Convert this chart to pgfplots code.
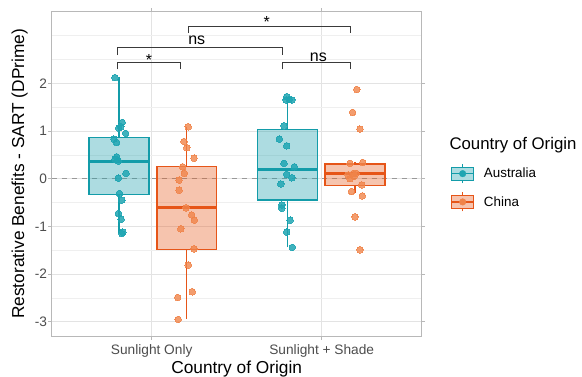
\documentclass[border=0pt]{standalone}
\usepackage{fontspec}
\setmainfont{Liberation Sans}
\usepackage{pgfplots}
\pgfplotsset{compat=1.18}
\usepgfplotslibrary{statistics}
\usepackage{pgfplotstable}

\definecolor{tealc}{HTML}{139CA9}
\definecolor{tealpt}{HTML}{1FA5B2}
\definecolor{orgc}{HTML}{E65518}
\definecolor{orgpt}{HTML}{F0844A}
\definecolor{gridmaj}{HTML}{E3E3E3}
\definecolor{gridmin}{HTML}{EFEFEF}
\definecolor{border}{HTML}{B8B8B8}
\definecolor{tickgray}{HTML}{4D4D4D}
\definecolor{brk}{HTML}{3A3A3A}

\pgfplotstableread{
x y
-0.216 2.12
-0.173 1.18
-0.182 1.09
-0.194 1.06
-0.153 0.95
-0.222 0.83
-0.206 0.76
-0.206 0.46
-0.216 0.41
-0.196 0.37
-0.151 0.11
-0.196 0.01
-0.190 -0.31
-0.176 -0.45
-0.196 -0.73
-0.180 -0.85
-0.170 -1.12
-0.176 -1.15
}\ausSO

\pgfplotstableread{
x y
0.215 1.09
0.190 0.78
0.206 0.65
0.249 0.43
0.182 0.25
0.192 0.11
0.161 -0.03
0.161 -0.24
0.202 -0.61
0.235 -0.76
0.251 -0.87
0.171 -1.05
0.249 -1.47
0.215 -1.81
0.239 -2.37
0.153 -2.49
0.156 -2.95
}\chnSO

\pgfplotstableread{
x y
0.794 1.72
0.809 1.66
0.824 1.65
0.790 1.65
0.778 1.11
0.751 0.83
0.794 0.69
0.778 0.32
0.839 0.25
0.794 0.09
0.824 0.02
0.759 -0.11
0.765 -0.55
0.765 -0.62
0.814 -0.87
0.794 -1.12
0.827 -1.44
}\ausSS

\pgfplotstableread{
x y
1.206 1.87
1.182 1.39
1.225 1.04
1.166 0.32
1.241 0.34
1.186 0.11
1.202 0.11
1.156 0.08
1.166 0.00
1.190 0.05
1.235 -0.13
1.176 -0.27
1.239 -0.36
1.196 -0.80
1.225 -1.49
}\chnSS

\newcommand{\fsz}[1]{\fontsize{#1pt}{#1pt}\selectfont}

\begin{document}
\begin{tikzpicture}
\begin{axis}[
  name=ax,
  scale only axis, width=370pt, height=324.3pt,
  xmin=-0.588, xmax=1.588, ymin=-3.298, ymax=3.501,
  clip=false,
  boxplot/draw direction=y,
  xtick={0,1}, xticklabels={Sunlight Only, Sunlight + Shade},
  ytick={-3,-2,-1,0,1,2},
  minor ytick={-2.5,-1.5,-0.5,0.5,1.5,2.5,3},
  grid=both,
  major grid style={color=gridmaj, line width=0.9pt},
  minor grid style={color=gridmin, line width=0.6pt},
  axis line style={color=border, line width=1pt},
  tick align=outside, major tick length=3.5pt, minor tick length=0pt,
  tick style={color=border, line width=0.8pt},
  /pgf/number format/assume math mode=true,
  ticklabel style={font=\fsz{13.7}, text=tickgray},
  xticklabel style={anchor=north, inner sep=0pt, yshift=-5pt},
  yticklabel style={anchor=east, inner sep=0pt, xshift=-1pt},
  legend style={at={(1.0784,0.457)}, anchor=west, draw=none, fill=none,
    inner sep=0pt, font=\fsz{13.4}, row sep=8.3pt,
    nodes={inner sep=0pt}},
  legend cell align=left,
]
% zero line
\addplot[forget plot, color=black!40, line width=0.8pt, dash pattern=on 5pt off 5pt] coordinates {(-0.588,0) (1.588,0)};

% boxes
\addplot[forget plot, draw=tealc, fill=tealc, fill opacity=0.35, line width=1.5pt,
  boxplot/every median/.style={line width=3pt},
  boxplot prepared={lower whisker=-1.145, lower quartile=-0.327, median=0.357,
    upper quartile=0.868, upper whisker=2.125, draw position=-0.192,
    box extend=0.352, whisker extend=0}] coordinates {};
\addplot[forget plot, draw=orgc, fill=orgc, fill opacity=0.35, line width=1.5pt,
  boxplot/every median/.style={line width=3pt},
  boxplot prepared={lower whisker=-2.95, lower quartile=-1.48, median=-0.608,
    upper quartile=0.252, upper whisker=1.09, draw position=0.206,
    box extend=0.352, whisker extend=0}] coordinates {};
\addplot[forget plot, draw=tealc, fill=tealc, fill opacity=0.35, line width=1.5pt,
  boxplot/every median/.style={line width=3pt},
  boxplot prepared={lower whisker=-1.44, lower quartile=-0.447, median=0.203,
    upper quartile=1.036, upper whisker=1.72, draw position=0.799,
    box extend=0.352, whisker extend=0}] coordinates {};
\addplot[forget plot, draw=orgc, fill=orgc, fill opacity=0.35, line width=1.5pt,
  boxplot/every median/.style={line width=3pt},
  boxplot prepared={lower whisker=-0.30, lower quartile=-0.146, median=0.099,
    upper quartile=0.308, upper whisker=0.34, draw position=1.196,
    box extend=0.352, whisker extend=0}] coordinates {};

% points
\addplot[forget plot, only marks, mark=*, mark size=3.3pt, color=tealpt, opacity=0.85, mark options={solid, fill=tealpt, draw=tealpt, line width=0pt}] table[x=x,y=y] {\ausSO};
\addplot[forget plot, only marks, mark=*, mark size=3.3pt, color=orgpt, opacity=0.8, mark options={solid, fill=orgpt, draw=orgpt, line width=0pt}] table[x=x,y=y] {\chnSO};
\addplot[forget plot, only marks, mark=*, mark size=3.3pt, color=tealpt, opacity=0.85, mark options={solid, fill=tealpt, draw=tealpt, line width=0pt}] table[x=x,y=y] {\ausSS};
\addplot[forget plot, only marks, mark=*, mark size=3.3pt, color=orgpt, opacity=0.8, mark options={solid, fill=orgpt, draw=orgpt, line width=0pt}] table[x=x,y=y] {\chnSS};

% significance brackets
\addplot[forget plot, brk, line width=0.8pt] coordinates {(-0.202,2.29) (-0.202,2.44) (0.171,2.44) (0.171,2.29)};
\addplot[forget plot, brk, line width=0.8pt] coordinates {(-0.202,2.59) (-0.202,2.75) (0.771,2.75) (0.771,2.59)};
\addplot[forget plot, brk, line width=0.8pt] coordinates {(0.771,2.29) (0.771,2.44) (1.171,2.44) (1.171,2.29)};
\addplot[forget plot, brk, line width=0.8pt] coordinates {(0.215,3.05) (0.215,3.19) (1.171,3.19) (1.171,3.05)};
\node[font=\fsz{16}, anchor=base, inner sep=0pt] at (axis cs:-0.016,2.37) {*};
\node[font=\fsz{16}, anchor=base, inner sep=0pt] at (axis cs:0.265,2.803) {ns};
\node[font=\fsz{16}, anchor=base, inner sep=0pt] at (axis cs:0.98,2.46) {ns};
\node[font=\fsz{16}, anchor=base, inner sep=0pt] at (axis cs:0.676,3.17) {*};

% axis titles
\node[font=\fsz{17.3}, anchor=base, inner sep=0pt] at (rel axis cs:0.5,-0.11502) {Country of Origin};
\node[font=\fsz{17.3}, anchor=base, inner sep=0pt, rotate=90] at (rel axis cs:-0.07459,0.5) {Restorative Benefits - SART (DPrime)};

% legend
\node[font=\fsz{16.8}, anchor=base west, inner sep=0pt] at (rel axis cs:1.0746,0.5757) {Country of Origin};
\addlegendimage{legend image code/.code={
  \draw[tealc, line width=1pt] (11pt,-9.5pt) -- (11pt,9.5pt);
  \draw[draw=tealc, fill=tealc!35, line width=1pt] (0pt,-6.5pt) rectangle (22pt,6.5pt);
  \draw[tealc, line width=1.5pt] (0pt,0pt) -- (22pt,0pt);
  \fill[tealpt] (11pt,0pt) circle (3.3pt);
  \path[draw=none, fill=none] (0pt,0pt) -- (32.3pt,0pt);
}}
\addlegendentry{Australia}
\addlegendimage{legend image code/.code={
  \draw[orgc, line width=1pt] (11pt,-9.5pt) -- (11pt,9.5pt);
  \draw[draw=orgc, fill=orgc!35, line width=1pt] (0pt,-6.5pt) rectangle (22pt,6.5pt);
  \draw[orgc, line width=1.5pt] (0pt,0pt) -- (22pt,0pt);
  \fill[orgpt] (11pt,0pt) circle (3.3pt);
  \path[draw=none, fill=none] (0pt,0pt) -- (32.3pt,0pt);
}}
\addlegendentry{China}
\end{axis}
\pgfresetboundingbox
\path[use as bounding box] ([shift={(-51.7pt,-40pt)}]ax.south west) rectangle ([shift={(530.3pt,336pt)}]ax.south west);
\end{tikzpicture}
\end{document}
